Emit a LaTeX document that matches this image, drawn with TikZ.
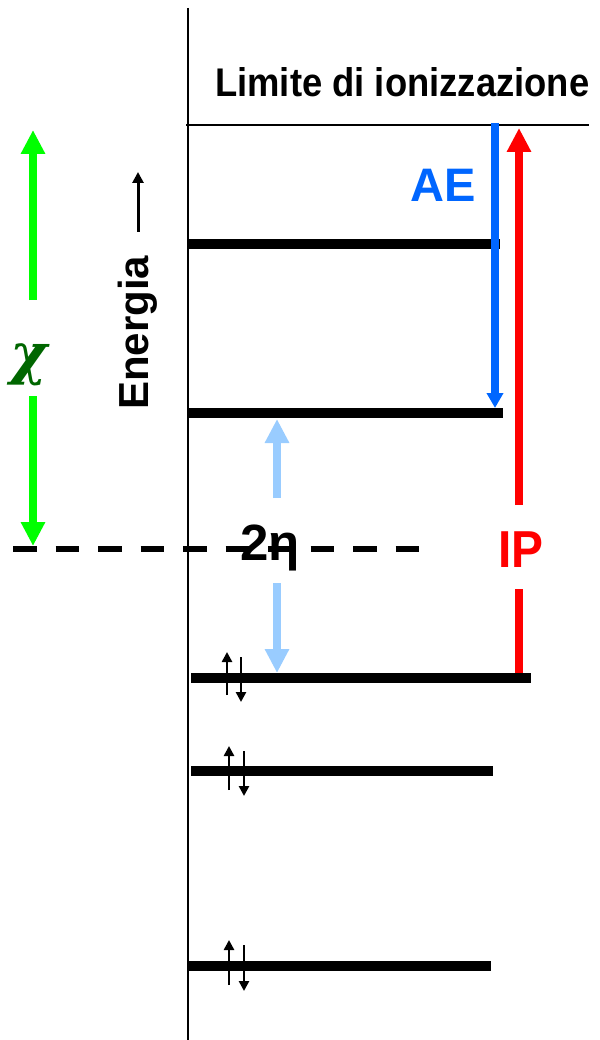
\documentclass[tikz,border=0pt]{standalone}
\usepackage{fontspec}
\setmainfont{Liberation Sans}
\newfontfamily\greekserif{DejaVu Serif}
\usetikzlibrary{arrows.meta}
\definecolor{chigreen}{RGB}{0,255,0}
\definecolor{chidark}{RGB}{0,102,0}
\definecolor{aeblue}{RGB}{0,102,255}
\definecolor{etablue}{RGB}{153,204,255}
\definecolor{ipred}{RGB}{255,0,0}
\begin{document}
\begin{tikzpicture}[x=1pt,y=-1pt,
  lvl/.style={line width=10.5pt},
  bigarrow/.style={line width=8pt,-{Triangle[width=23pt,length=24pt]}},
  shaft/.style={line width=8pt},
  spin/.style={line width=2.5pt,-{Triangle[width=10pt,length=10pt]}},
  lbl/.style={inner sep=0pt,font=\bfseries}]
\useasboundingbox (0,0) rectangle (599,1040);
% axis and ionization limit
\coordinate (axT) at (188,8);
\coordinate (axB) at (188,1040);
\draw[line width=2pt] (axT) -- (axB);
\coordinate (ion1) at (186,125);
\coordinate (ion2) at (589,125);
\draw[line width=2.5pt] (ion1) -- (ion2);
% levels
\coordinate (l1a) at (188,244); \coordinate (l1b) at (500,244);
\coordinate (l2a) at (189,413); \coordinate (l2b) at (503,413);
\coordinate (l3a) at (191,678); \coordinate (l3b) at (531,678);
\coordinate (l4a) at (191,771); \coordinate (l4b) at (493,771);
\coordinate (l5a) at (188,966); \coordinate (l5b) at (491,966);
\draw[lvl] (l1a) -- (l1b);
\draw[lvl] (l2a) -- (l2b);
\draw[lvl] (l3a) -- (l3b);
\draw[lvl] (l4a) -- (l4b);
\draw[lvl] (l5a) -- (l5b);
% dashed line
\coordinate (d1) at (13,549); \coordinate (d2) at (419,549);
\draw[line width=6pt,dash pattern=on 23.5pt off 19pt] (d1) -- (d2);
% title
\node[lbl,anchor=base west] (title) at (215,97) {\fontsize{40}{48}\selectfont\scalebox{0.91}[1]{Limite di ionizzazione}};
% Energia
\node[lbl,anchor=base west,rotate=90] (en) at (148,410) {\fontsize{42}{50}\selectfont Energia};
\coordinate (ea1) at (138,232); \coordinate (ea2) at (138,172);
\draw[line width=3pt,-{Triangle[width=11pt,length=11pt]}] (ea1) -- (ea2);
% chi
\node[inner sep=0pt,text=chidark,font=\greekserif\bfseries\itshape] (chi) at (29,365) {\fontsize{56}{60}\selectfont χ};
\coordinate (g1) at (33,300); \coordinate (g2) at (33,130);
\coordinate (g3) at (33,396); \coordinate (g4) at (33,546);
\draw[bigarrow,chigreen] (g1) -- (g2);
\draw[bigarrow,chigreen] (g3) -- (g4);
% AE
\node[lbl,anchor=base west,text=aeblue] (ae) at (410,202) {\fontsize{47}{50}\selectfont AE};
\coordinate (b1) at (495,123); \coordinate (b2) at (495,408);
\draw[aeblue,line width=8pt,-{Triangle[width=16pt,length=15pt]}] (b1) -- (b2);
% IP
\node[lbl,anchor=base west,text=ipred] (ip) at (498,567) {\fontsize{52}{55}\selectfont\scalebox{0.92}[1]{IP}};
\coordinate (r1) at (519,505); \coordinate (r2) at (519,128);
\coordinate (r3) at (519,589); \coordinate (r4) at (519,673);
\draw[bigarrow,ipred] (r1) -- (r2);
\draw[shaft,ipred] (r3) -- (r4);
% 2 eta
\node[lbl,anchor=base west] (eta) at (240,560) {\fontsize{51}{55}\selectfont 2η};
\coordinate (h1) at (277,498); \coordinate (h2) at (277,419);
\coordinate (h3) at (277,583); \coordinate (h4) at (277,673);
\draw[bigarrow,etablue] (h1) -- (h2);
\draw[bigarrow,etablue] (h3) -- (h4);
% spins
\coordinate (s1a) at (227,695); \coordinate (s1b) at (227,652);
\coordinate (s2a) at (241,657); \coordinate (s2b) at (241,702);
\coordinate (s3a) at (229,790); \coordinate (s3b) at (229,746);
\coordinate (s4a) at (244,751); \coordinate (s4b) at (244,796);
\coordinate (s5a) at (229,985); \coordinate (s5b) at (229,940);
\coordinate (s6a) at (244,945); \coordinate (s6b) at (244,991);
\draw[spin] (s1a) -- (s1b);
\draw[spin] (s2a) -- (s2b);
\draw[spin] (s3a) -- (s3b);
\draw[spin] (s4a) -- (s4b);
\draw[spin] (s5a) -- (s5b);
\draw[spin] (s6a) -- (s6b);
\end{tikzpicture}
\end{document}
